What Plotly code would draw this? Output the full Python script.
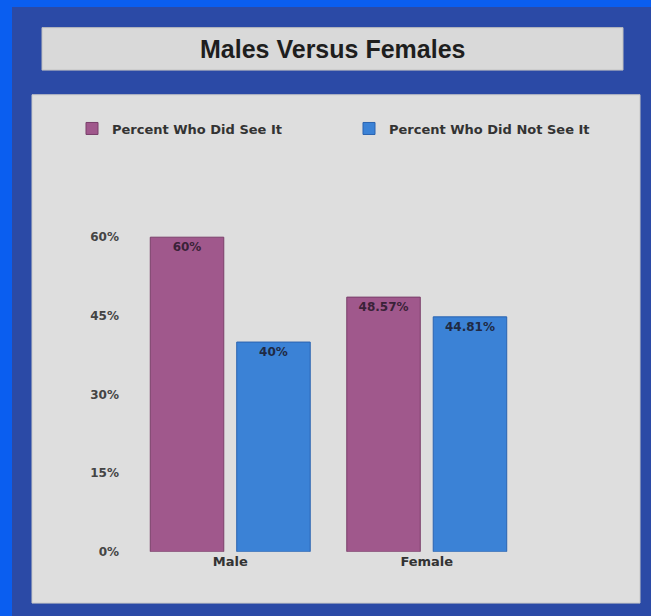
import plotly.graph_objects as go

W, H = 651, 616

categories = ["Male", "Female"]
saw_it = [60, 48.57]
did_not = [40, 44.81]
saw_labels = ["60%", "48.57%"]
did_not_labels = ["40%", "44.81%"]
tick_vals = [0, 15, 30, 45, 60]
tick_text = ["0%", "15%", "30%", "45%", "60%"]

PURPLE = "#a0588c"
BLUE = "#3b82d6"


def px_x(x):
    return x / W


def px_y(y):
    return 1 - y / H


fig = go.Figure()

fig.add_trace(go.Bar(
    x=categories, y=saw_it, name="<b>Percent Who Did See It</b>",
    marker=dict(color=PURPLE, line=dict(color="#7a3f6a", width=1)),
    text=saw_labels, textposition="inside", insidetextanchor="end",
    texttemplate="<b>%{text}</b>",
    textfont=dict(family="DejaVu Sans", size=12, color="#3a2238"),
))
fig.add_trace(go.Bar(
    x=categories, y=did_not, name="<b>Percent Who Did Not See It</b>",
    marker=dict(color=BLUE, line=dict(color="#2a63b0", width=1)),
    text=did_not_labels, textposition="inside", insidetextanchor="end",
    texttemplate="<b>%{text}</b>",
    textfont=dict(family="DejaVu Sans", size=12, color="#1f2a44"),
))

shapes = [
    # dark blue frame
    dict(type="rect", xref="paper", yref="paper", layer="below",
         x0=px_x(12), x1=1.05, y0=-0.05, y1=px_y(6),
         fillcolor="#2b4aa6", line=dict(width=0)),
    # title box
    dict(type="rect", xref="paper", yref="paper", layer="below",
         x0=px_x(42), x1=px_x(623), y0=px_y(70), y1=px_y(27),
         fillcolor="#d9d9d9", line=dict(color="#bfbfbf", width=1)),
    # chart panel
    dict(type="rect", xref="paper", yref="paper", layer="below",
         x0=px_x(32), x1=px_x(640), y0=px_y(610), y1=px_y(95),
         fillcolor="#dedede", line=dict(color="#c8c8c8", width=1)),
]

fig.update_layout(
    width=W, height=H,
    margin=dict(l=0, r=0, t=0, b=0),
    paper_bgcolor="#0a5ef0",
    plot_bgcolor="rgba(0,0,0,0)",
    shapes=shapes,
    barmode="group",
    bargap=0.12,
    bargroupgap=0.15,
    font=dict(family="DejaVu Sans", color="#333333"),
    annotations=[dict(
        text="<b>Males Versus Females</b>", xref="paper", yref="paper",
        x=px_x(332), y=px_y(49), xanchor="center", yanchor="middle", showarrow=False,
        font=dict(family="Liberation Sans", size=25, color="#1e1e1e"),
    )],
    legend=dict(
        orientation="h", x=px_x(72), y=px_y(114), xanchor="left", yanchor="top",
        bgcolor="rgba(0,0,0,0)", font=dict(family="DejaVu Sans", size=13, color="#333333"),
        itemwidth=30, traceorder="normal",
        entrywidth=232, entrywidthmode="pixels",
    ),
    xaxis=dict(
        domain=[px_x(132), px_x(525)],
        showgrid=False, zeroline=False, showline=False,
        tickvals=categories, ticktext=["<b>" + c + "</b>" for c in categories],
        tickfont=dict(family="DejaVu Sans", size=13, color="#333333"),
    ),
    yaxis=dict(
        domain=[px_y(558), px_y(234)],
        range=[0, 61],
        tickvals=tick_vals, ticktext=["<b>" + t + "</b>" for t in tick_text],
        showgrid=False, zeroline=False, showline=False,
        ticks="", ticklabelstandoff=12,
        tickfont=dict(family="DejaVu Sans", size=12, color="#444444"),
    ),
)

fig.write_html("out.html", config={"displayModeBar": False},
               post_script="document.body.style.margin='0';")
